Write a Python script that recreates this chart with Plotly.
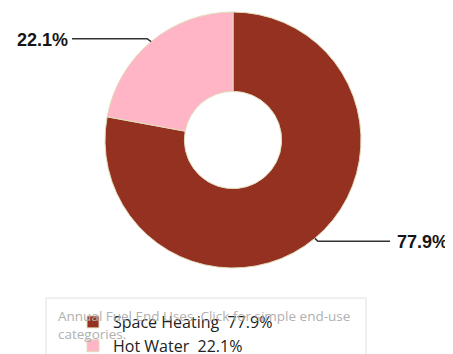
import math
import plotly.graph_objects as go

categories = ["Space Heating", "Hot Water"]
values = [77.9, 22.1]
colors = ["#943121", "#FFB5C5"]
title_text = "Annual Fuel End Uses. Click for simple end-use<br>categories."

W, H = 453, 354
OFF = 8  # page offset of the plot div
cx, cy, r = 233, 140, 128  # pie geometry in reference pixels

def px(x):
    return (x - OFF) / W

def py(y):
    return 1 - (y - OFF) / H

legend_labels = [f"{c}\u00a0\u00a0{v}%" for c, v in zip(categories, values)]

fig = go.Figure(go.Pie(
    labels=legend_labels,
    values=values,
    hole=0.38,
    sort=False,
    direction="clockwise",
    rotation=0,
    marker=dict(colors=colors, line=dict(color="#e2dcbc", width=1)),
    textinfo="none",
    hoverinfo="label",
    domain=dict(x=[px(cx - r), px(cx + r)], y=[py(cy + r), py(cy - r)]),
))

shapes = []
annotations = []
total = sum(values)
cum = 0
for v in values:
    mid = (cum + v / 2) / total * 2 * math.pi
    cum += v
    ex = cx + r * math.sin(mid)
    ey = cy - r * math.cos(mid)
    right = math.sin(mid) > 0
    kx = ex + (3 if right else -4)
    ky = ey + (3 if right else -3)
    lx = 390 if right else 72
    shapes.append(dict(type="path", xref="paper", yref="paper",
                       path=f"M{px(ex)},{py(ey)} L{px(kx)},{py(ky)} L{px(lx)},{py(ky)}",
                       line=dict(color="#333333", width=1.5)))
    annotations.append(dict(x=px(lx + (5 if right else -2)), y=py(ky + 1), xref="paper", yref="paper",
                            text=f"<b>{v}%</b>", showarrow=False,
                            xanchor="left" if right else "right", yanchor="middle",
                            font=dict(family="Liberation Sans, Arial", size=18, color="#161616")))

shapes.append(dict(type="rect", xref="paper", yref="paper",
                   x0=px(46), x1=px(366), y0=py(370), y1=py(298),
                   line=dict(color="#e0e0e0", width=1), fillcolor="rgba(0,0,0,0)", layer="below"))

annotations.append(dict(x=px(56), y=py(305), xref="paper", yref="paper",
                        text=title_text, showarrow=False, xanchor="left", yanchor="top",
                        align="left",
                        font=dict(family="Open Sans, Noto Sans", size=13.5, color="#b0b0b0")))

fig.update_layout(
    width=W, height=H,
    margin=dict(l=0, r=0, t=0, b=0, autoexpand=False),
    paper_bgcolor="white",
    plot_bgcolor="white",
    showlegend=True,
    legend=dict(x=px(73), y=py(305), xanchor="left", yanchor="top",
                bgcolor="rgba(0,0,0,0)", borderwidth=0,
                font=dict(family="Open Sans, Noto Sans", size=16, color="#222222"),
                tracegroupgap=0),
    shapes=shapes,
    annotations=annotations,
)

fig.write_html("out.html")
